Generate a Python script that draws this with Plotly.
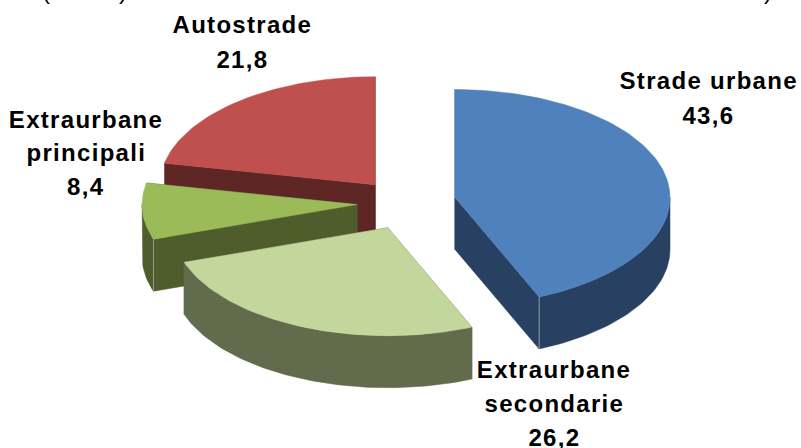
import math
import plotly.graph_objects as go

# ---- data ----
categories = ["Strade urbane", "Extraurbane secondarie", "Extraurbane principali", "Autostrade"]
values = [43.6, 26.2, 8.4, 21.8]
value_labels = ["43,6", "26,2", "8,4", "21,8"]

# ---- styling ----
top_colors = ["#4F81BD", "#C3D69B", "#9BBB59", "#C0504D"]
side_colors = ["#284162", "#626C4D", "#4F5D2D", "#5E2726"]
corner_color = "#9A9A9A"
W, H = 801, 448
CX, CY, A, B = 406.5, 203.0, 215.0, 108.0
DEPTH, PULL = 52.0, 49.5 / 215.0
# small per-slice shift standing in for the original's slight perspective
nudge = [(0, -0.5), (1.5, 2), (0, 0), (0, 1)]
draw_order = [3, 2, 1, 0]
# label lines: (x centre, baseline of first line, line pitch)
label_pos = {0: (708, 88, 35), 1: (554, 377, 34), 2: (86, 127, 33.5), 3: (242, 32, 35)}
FONT = "Liberation Sans"
FS = 24
BASELINE_OFFSET = 8

total = sum(values)
spans, a0 = [], 0.0
for v in values:
    a1 = a0 + v / total * 360
    spans.append((a0, a1))
    a0 = a1


def pt(c, deg, dz=0.0):
    t = math.radians(deg)
    return c[0] + A * math.sin(t), c[1] - B * math.cos(t) + dz


def arc(c, s, e, dz=0.0):
    n = max(2, int((e - s) / 1.5))
    return [pt(c, s + (e - s) * i / n, dz) for i in range(n + 1)]


fig = go.Figure()


def poly(points, color, name):
    xs = [p[0] for p in points] + [points[0][0]]
    ys = [p[1] for p in points] + [points[0][1]]
    fig.add_trace(go.Scatter(x=xs, y=ys, mode="lines", fill="toself", fillcolor=color,
                             line=dict(color=color, width=0.5), hoverinfo="skip",
                             showlegend=False, name=name))


for i in draw_order:
    s, e = spans[i]
    mid = math.radians((s + e) / 2)
    c = (CX + PULL * A * math.sin(mid) + nudge[i][0], CY - PULL * B * math.cos(mid) + nudge[i][1])
    side, top, name = side_colors[i], top_colors[i], categories[i]
    # cut faces
    for ang in (s, e):
        p = pt(c, ang)
        poly([c, p, (p[0], p[1] + DEPTH), (c[0], c[1] + DEPTH)], side, name)
    # visible outer wall (front half of the rim only)
    fs, fe = max(s, 90), min(e, 270)
    if fe > fs:
        poly(arc(c, fs, fe) + arc(c, fs, fe, DEPTH)[::-1], side, name)
    # top face
    poly([c] + arc(c, s, e), top, name)
    # thin highlight on the front corner where a cut face meets the rim
    for ang in (s, e):
        if 90 < ang < 270 and (ang > 200) == (ang == s):
            p = pt(c, ang)
            fig.add_trace(go.Scatter(x=[p[0], p[0]], y=[p[1], p[1] + DEPTH], mode="lines",
                                     line=dict(color=corner_color, width=1),
                                     hoverinfo="skip", showlegend=False))

label_font = dict(family=FONT, size=FS, color="black")
annotations = []
for i, name in enumerate(categories):
    x, y, pitch = label_pos[i]
    lines = name.split(" ") if i in (1, 2) else [name]
    for k, line in enumerate(lines + [value_labels[i]]):
        annotations.append(dict(x=x, y=y + k * pitch - BASELINE_OFFSET, text=f"<b>{line}</b>",
                                xref="x", yref="y", showarrow=False, xanchor="center",
                                yanchor="middle", font=label_font))

# clipped fragments of the title that runs off the top edge
for x, t in [(46, "("), (123, ")"), (768, ")")]:
    annotations.append(dict(x=x / W, y=1 + 9 / H, text=t, xref="paper", yref="paper",
                            showarrow=False, xanchor="center", yanchor="middle",
                            font=dict(family=FONT, size=FS, color="black")))

fig.update_layout(
    width=W, height=H, margin=dict(l=0, r=0, t=0, b=0),
    paper_bgcolor="white", plot_bgcolor="white", showlegend=False,
    xaxis=dict(range=[0, W], visible=False, fixedrange=True),
    yaxis=dict(range=[H, 0], visible=False, fixedrange=True),
    annotations=annotations,
)
post = """
document.body.style.margin = '0';
document.documentElement.style.overflow = 'hidden';
document.querySelectorAll('.annotation-text').forEach(function (t) {
  if (t.textContent.length > 1) { t.style.letterSpacing = '1.3px'; }
});
"""
fig.write_html("out.html", config=dict(displayModeBar=False), post_script=post)
